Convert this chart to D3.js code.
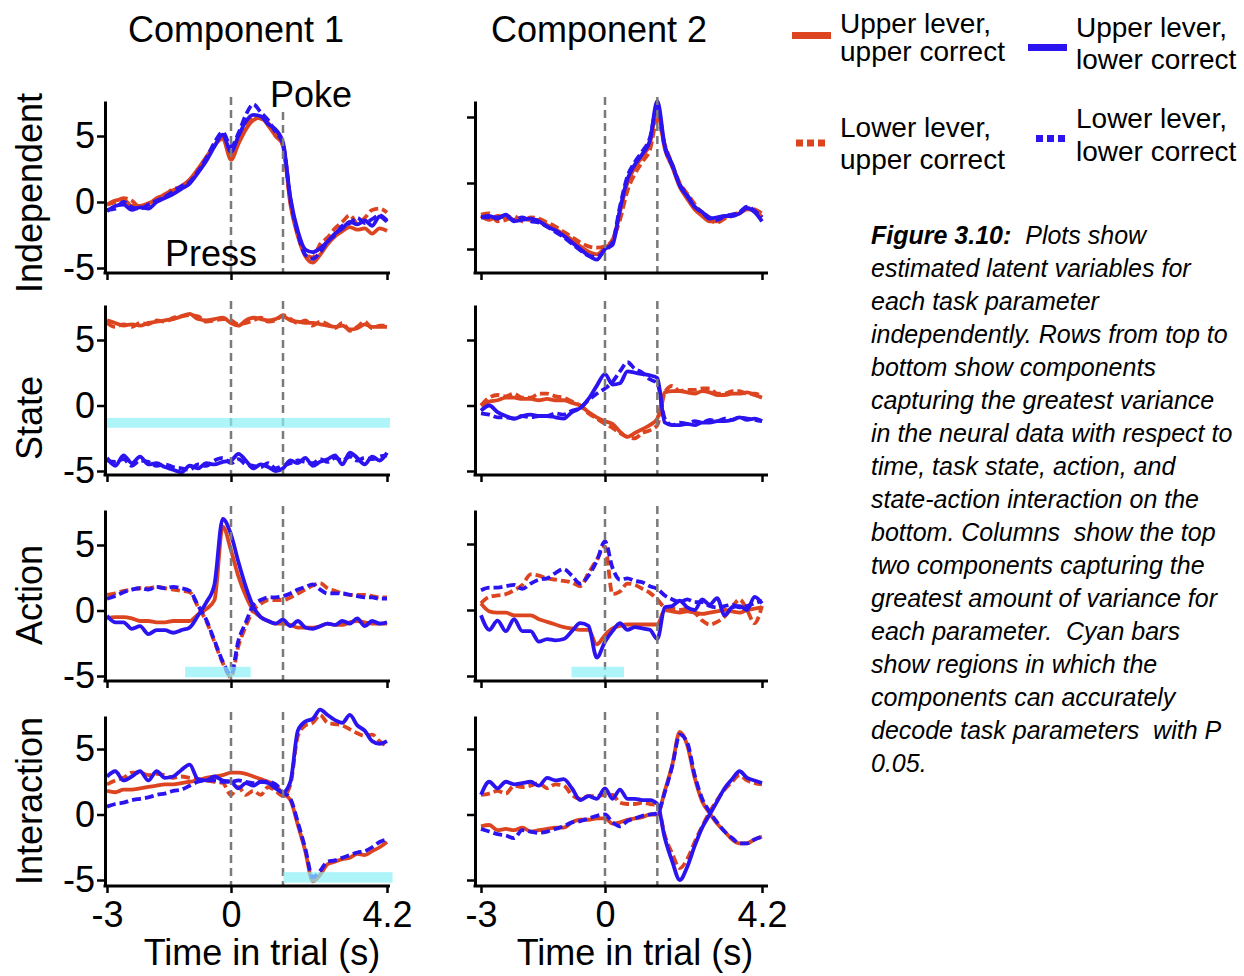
<!DOCTYPE html>
<html>
<head>
<meta charset="utf-8">
<script src="https://cdn.jsdelivr.net/npm/d3@7"></script>
<style>
  body { margin: 0; background: #fff; }
  svg { display: block; font-family: "Liberation Sans", Arial, sans-serif; }
</style>
</head>
<body>
<svg id="fig" width="1244" height="976"></svg>
<script>
// time axis shared by every trace (s, relative to lever press)
const timeGrid = [-3, -2.8, -2.6, -2.4, -2.2, -2, -1.8, -1.6, -1.4, -1.2,
  -1, -0.8, -0.6, -0.4, -0.2, 0, 0.2, 0.4, 0.6, 0.8,
  1, 1.2, 1.4, 1.6, 1.8, 2, 2.2, 2.4, 2.6, 2.8,
  3, 3.2, 3.4, 3.6, 3.8, 4, 4.2];

// UU = upper lever/upper correct, UL = upper lever/lower correct,
// LU = lower lever/upper correct, LL = lower lever/lower correct
// Independent, component 1
const ind1UU = [-0.2, 0.1, 0.2, -0.3, -0.3, -0.1, 0.2, 0.6, 0.9, 1.2,
  1.7, 2.5, 3.4, 4.3, 4.8, 3.2, 4.4, 5.5, 6.2, 6.4,
  5.8, 5.0, 4.3, -0.2, -2.6, -4.1, -4.6, -4.0, -3.2, -2.6,
  -2.2, -1.9, -2.1, -2.0, -2.4, -2.0, -2.2];
const ind1UL = [-0.7, -0.3, -0.2, -0.6, -0.4, -0.5, 0.0, 0.3, 0.6, 1.0,
  1.4, 2.2, 3.1, 4.2, 5.1, 3.8, 5.0, 6.1, 6.6, 6.5,
  5.9, 5.5, 4.5, 0.3, -2.2, -3.6, -3.8, -3.5, -3.0, -2.4,
  -2.0, -1.5, -1.7, -1.4, -1.8, -1.1, -1.5];
const ind1LU = [-0.2, 0.0, 0.3, 0.1, -0.4, -0.2, 0.3, 0.5, 1.0, 1.1,
  1.6, 2.3, 3.2, 4.4, 5.0, 3.5, 4.6, 5.7, 6.5, 6.3,
  6.0, 5.2, 4.2, 0.0, -2.4, -3.9, -4.2, -3.2, -2.7, -2.0,
  -1.5, -1.0, -1.6, -1.2, -0.6, -0.5, -0.8];
const ind1LL = [-0.6, -0.5, 0.0, -0.4, -0.5, -0.2, 0.1, 0.4, 0.8, 1.2,
  1.5, 2.3, 3.3, 4.5, 5.3, 4.2, 5.2, 6.6, 7.4, 6.8,
  6.2, 5.3, 4.4, 0.2, -2.4, -4.0, -4.3, -3.8, -3.0, -2.5,
  -1.8, -1.6, -1.2, -1.6, -1.3, -1.0, -1.4];

// Independent, component 2
const ind2UU = [-2.5, -2.8, -2.5, -2.6, -2.8, -2.7, -2.8, -2.8, -3.2, -3.5,
  -3.9, -4.3, -4.8, -5.2, -5.4, -4.9, -4.4, -2.2, 0.0, 1.2,
  2.0, 3.0, 5.6, 2.6, 1.2, -0.3, -1.2, -2.0, -2.5, -2.9,
  -2.9, -2.6, -2.4, -2.3, -2.0, -2.1, -2.6];
const ind2UL = [-2.6, -2.5, -2.7, -2.4, -2.9, -2.8, -2.7, -2.9, -3.3, -3.6,
  -4.0, -4.5, -5.0, -5.5, -5.8, -5.0, -4.7, -2.0, 0.3, 1.4,
  2.2, 3.2, 6.2, 2.8, 1.4, -0.2, -1.0, -1.8, -2.2, -2.7,
  -2.6, -2.5, -2.5, -2.3, -1.9, -2.2, -2.9];
const ind2LU = [-2.4, -2.3, -2.9, -2.8, -2.5, -2.9, -2.6, -2.7, -3.0, -3.3,
  -3.7, -4.1, -4.5, -4.8, -4.9, -4.8, -4.3, -2.8, -0.6, 0.7,
  1.6, 2.5, 4.8, 2.9, 1.4, 0.0, -0.8, -1.6, -2.3, -2.8,
  -3.0, -2.7, -2.5, -2.2, -1.9, -2.0, -2.3];
const ind2LL = [-2.6, -2.6, -2.6, -2.5, -2.8, -2.6, -2.9, -3.0, -3.3, -3.7,
  -4.1, -4.6, -5.1, -5.5, -5.6, -5.1, -4.5, -1.8, 0.5, 1.6,
  2.4, 3.4, 5.8, 2.7, 1.3, -0.1, -0.9, -1.8, -2.2, -2.6,
  -2.8, -2.5, -2.4, -2.2, -1.8, -2.1, -2.6];

// State, component 1
const state1UU = [6.5, 6.3, 6.1, 6.2, 6.1, 6.3, 6.4, 6.5, 6.6, 6.8,
  7.0, 6.6, 6.5, 6.6, 6.7, 6.3, 6.1, 6.5, 6.7, 6.6,
  6.5, 6.6, 6.8, 6.5, 6.4, 6.3, 6.3, 6.2, 6.1, 6.0,
  6.1, 5.8, 5.9, 6.2, 6.0, 6.0, 6.0];
const state1UL = [-4.0, -4.6, -3.8, -4.4, -3.9, -4.5, -4.4, -4.7, -4.9, -5.1,
  -4.6, -4.8, -4.4, -4.5, -4.3, -4.2, -3.7, -4.2, -4.8, -4.5,
  -4.7, -5.0, -4.8, -4.2, -4.4, -4.0, -4.6, -4.3, -4.1, -3.8,
  -4.5, -3.6, -4.0, -4.5, -3.9, -4.2, -3.6];
const state1LU = [6.3, 6.0, 6.2, 6.0, 6.3, 6.2, 6.5, 6.4, 6.7, 6.8,
  6.9, 6.8, 6.4, 6.5, 6.6, 6.5, 6.2, 6.3, 6.5, 6.7,
  6.4, 6.5, 6.9, 6.6, 6.3, 6.5, 6.1, 6.4, 6.2, 5.9,
  6.3, 5.7, 6.0, 6.4, 5.9, 6.1, 6.1];
const state1LL = [-4.2, -4.3, -4.1, -4.6, -4.2, -4.3, -4.6, -4.5, -4.7, -4.8,
  -4.9, -4.5, -4.6, -4.2, -4.0, -4.4, -4.1, -4.5, -4.6, -4.7,
  -4.4, -4.8, -4.6, -4.4, -4.2, -4.3, -4.4, -4.1, -4.3, -4.0,
  -4.2, -3.9, -4.2, -4.0, -4.1, -3.9, -3.8];

// State, component 2
const state2UU = [0.0, 0.3, 0.4, 0.6, 0.6, 0.5, 0.5, 0.4, 0.5, 0.4,
  0.4, 0.2, 0.0, -0.5, -0.9, -1.2, -1.4, -2.0, -2.4, -2.1,
  -1.8, -1.5, -1.0, 1.0, 1.1, 1.1, 1.0, 0.9, 1.1, 1.0,
  0.8, 0.8, 0.9, 0.9, 1.0, 0.8, 0.6];
const state2UL = [-0.4, 0.0, -0.5, -0.8, -1.0, -0.8, -0.7, -0.8, -0.8, -0.9,
  -1.0, -0.5, -0.2, 0.5, 1.5, 2.4, 1.6, 1.7, 2.6, 2.5,
  2.4, 2.3, 2.1, -1.3, -1.5, -1.5, -1.4, -1.5, -1.3, -1.3,
  -1.2, -1.2, -1.1, -0.9, -1.1, -1.0, -1.2];
const state2LU = [0.0, 0.6, 0.8, 0.7, 0.9, 0.6, 0.6, 0.9, 0.9, 0.7,
  0.6, 0.3, 0.0, -0.6, -1.0, -1.4, -1.7, -2.1, -2.4, -2.5,
  -2.1, -1.9, -1.5, 1.0, 1.5, 1.1, 1.2, 1.2, 1.3, 1.3,
  0.9, 0.9, 1.1, 1.1, 0.9, 0.9, 0.7];
const state2LL = [-0.6, -0.7, -0.9, -0.9, -1.0, -0.8, -0.9, -0.8, -0.8, -0.6,
  -0.7, -0.4, -0.2, 0.4, 0.9, 1.3, 1.8, 2.6, 3.3, 2.8,
  2.5, 2.0, 1.7, -1.0, -1.5, -1.3, -1.4, -1.2, -1.3, -1.1,
  -1.2, -1.0, -1.1, -0.9, -1.0, -1.1, -1.2];

// Action, component 1
const action1UU = [-0.6, -0.5, -0.5, -0.6, -0.8, -0.8, -0.9, -0.9, -0.8, -0.8,
  -0.8, -0.3, 0.1, 0.8, 6.4, 4.6, 2.6, 1.1, 0.0, -0.5,
  -0.8, -1.0, -1.0, -1.1, -1.3, -1.3, -1.3, -1.2, -1.0, -1.1,
  -1.1, -0.9, -0.8, -0.9, -1.0, -1.0, -1.0];
const action1UL = [-0.4, -0.9, -0.9, -1.4, -1.2, -1.8, -1.5, -1.5, -1.7, -1.5,
  -1.3, -0.4, 0.6, 2.0, 7.0, 5.8, 3.7, 1.8, 0.3, -0.5,
  -0.8, -1.0, -0.7, -1.2, -0.8, -1.3, -1.4, -1.2, -1.0, -1.1,
  -0.8, -1.0, -0.6, -1.2, -0.8, -1.0, -0.9];
const action1LU = [1.2, 1.3, 1.5, 1.6, 1.7, 1.7, 1.8, 1.7, 1.6, 1.5,
  1.4, 0.3, -0.8, -2.4, -4.0, -5.1, -2.7, -1.2, 0.0, 0.5,
  0.8, 0.8, 0.8, 1.0, 1.3, 1.6, 1.9, 2.1, 1.7, 1.5,
  1.3, 1.2, 1.2, 1.2, 1.1, 1.0, 1.0];
const action1LL = [0.9, 1.1, 1.4, 1.6, 1.7, 1.6, 1.8, 1.7, 1.8, 1.7,
  1.5, 0.4, -0.7, -2.3, -3.9, -4.9, -2.3, -0.9, 0.4, 0.8,
  1.0, 1.0, 1.1, 1.3, 1.6, 1.8, 2.0, 1.6, 1.3, 1.3,
  1.3, 1.2, 1.1, 1.0, 1.0, 0.9, 0.9];

// Action, component 2
const action2UU = [0.5, -0.1, -0.2, -0.2, -0.4, -0.4, -0.4, -0.7, -0.9, -1.1,
  -1.3, -1.4, -1.5, -1.5, -2.6, -1.9, -1.4, -1.2, -1.1, -1.1,
  -1.1, -1.1, -1.1, 0.0, -0.1, -0.2, -0.1, -0.2, -0.3, -0.2,
  -0.1, 0.0, -0.1, -0.2, 0.0, 0.1, 0.2];
const action2UL = [-0.4, -1.5, -0.8, -1.6, -0.7, -1.6, -1.6, -2.4, -2.2, -2.3,
  -2.2, -1.6, -1.0, -1.2, -3.6, -2.4, -1.6, -1.0, -1.5, -1.3,
  -1.4, -1.5, -2.2, 0.2, 0.3, 0.7, 0.2, 0.0, 0.8, 0.4,
  0.9, -0.4, 0.2, 0.3, 0.0, 1.0, 0.5];
const action2LU = [0.5, 1.0, 1.1, 1.2, 1.5, 1.9, 2.7, 2.6, 2.4, 2.3,
  2.2, 2.1, 1.8, 2.8, 3.8, 4.8, 1.2, 1.4, 2.0, 1.9,
  1.6, 1.3, 0.8, 0.2, 0.1, 0.0, 0.1, -0.2, -0.8, -1.1,
  -0.9, -0.5, 0.2, 0.8, 0.0, -1.0, 0.3];
const action2LL = [1.5, 1.7, 1.7, 1.8, 1.9, 1.6, 2.0, 2.3, 2.4, 2.8,
  3.1, 2.6, 2.0, 2.6, 3.7, 5.2, 3.2, 2.3, 2.4, 2.2,
  2.1, 1.8, 1.6, 1.1, 0.8, 0.6, 0.8, 0.6, 0.6, 0.3,
  0.2, 0.3, 0.4, 0.2, 0.3, 0.5, 0.7];

// Interaction, component 1
const inter1UU = [1.8, 1.7, 1.9, 1.9, 2.0, 2.1, 2.2, 2.3, 2.3, 2.4,
  2.5, 2.6, 2.8, 2.9, 3.0, 3.2, 3.2, 3.1, 2.9, 2.7,
  2.5, 2.2, 1.6, 1.1, -0.8, -2.8, -5.1, -4.6, -3.8, -3.6,
  -3.4, -3.3, -3.0, -3.1, -2.8, -2.5, -2.1];
const inter1UL = [2.9, 3.3, 2.6, 2.9, 3.3, 2.6, 3.3, 2.8, 2.9, 3.4,
  3.8, 2.7, 2.6, 2.9, 2.6, 2.5, 2.0, 2.4, 2.2, 2.5,
  2.4, 2.0, 1.7, 2.5, 6.4, 7.1, 7.3, 8.0, 7.6, 7.2,
  7.0, 7.6, 6.8, 6.4, 5.6, 5.4, 5.6];
const inter1LU = [2.3, 2.6, 2.8, 3.2, 3.2, 3.0, 3.1, 3.0, 2.8, 2.9,
  2.8, 2.7, 2.6, 2.5, 2.4, 1.5, 2.1, 1.5, 1.8, 1.5,
  2.1, 1.8, 1.4, 2.3, 6.0, 6.8, 7.0, 7.6, 7.0, 6.9,
  6.8, 6.5, 6.2, 6.0, 6.1, 5.6, 5.2];
const inter1LL = [0.6, 0.8, 0.9, 1.1, 1.2, 1.3, 1.5, 1.6, 1.8, 1.9,
  2.2, 2.5, 2.6, 2.6, 2.5, 2.5, 2.6, 2.5, 2.4, 2.5,
  2.5, 2.3, 1.7, 1.2, -0.6, -2.6, -4.8, -4.3, -3.6, -3.5,
  -3.3, -3.1, -2.9, -2.8, -2.5, -2.1, -1.9];

// Interaction, component 2
const inter2UU = [-0.9, -0.8, -1.2, -1.1, -1.2, -1.0, -1.3, -1.2, -1.1, -1.0,
  -1.0, -0.6, -0.4, -0.4, -0.3, -0.3, -0.7, -0.6, -0.4, -0.3,
  -0.2, 0.0, 0.0, 1.8, 3.8, 6.3, 5.3, 2.8, 1.0, 0.1,
  -0.7, -1.3, -1.9, -2.2, -2.2, -1.9, -1.7];
const inter2UL = [1.5, 2.5, 2.0, 2.5, 2.3, 2.4, 2.5, 2.2, 2.8, 2.6,
  2.7, 2.0, 1.1, 1.4, 1.2, 2.0, 1.2, 1.9, 1.2, 1.2,
  1.1, 1.1, 0.8, -1.8, -3.6, -5.0, -4.0, -2.4, -1.0, 0.0,
  1.0, 2.0, 2.7, 3.3, 2.8, 2.6, 2.4];
const inter2LU = [1.5, 1.6, 1.8, 1.6, 2.2, 2.1, 2.2, 2.4, 2.0, 2.3,
  2.2, 1.5, 1.2, 1.4, 1.4, 1.5, 1.5, 0.9, 0.8, 0.8,
  0.9, 0.8, 0.7, -1.6, -3.0, -4.1, -3.4, -2.1, -0.9, 0.2,
  1.1, 1.9, 2.5, 3.0, 2.6, 2.4, 2.3];
const inter2LL = [-1.1, -1.3, -1.5, -1.6, -1.8, -1.2, -1.3, -1.4, -1.3, -1.1,
  -0.9, -0.6, -0.5, -0.3, -0.1, 0.0, -0.6, -0.9, -0.5, -0.3,
  -0.1, 0.0, 0.1, 1.7, 3.7, 6.1, 5.5, 3.0, 1.2, 0.2,
  -0.6, -1.3, -1.8, -2.2, -2.2, -1.9, -1.7];

// significant decoding windows: [row, col, tStart, tEnd, vLow, vHigh]
const cyanBars = [
  [1, 0, -3.05, 4.28, -1.7, -0.95],
  [2, 0, -1.11, 0.53, -5.1, -4.3],
  [2, 1, -0.81, 0.51, -5.1, -4.3],
  [3, 0, 1.41, 4.35, -5.2, -4.4]
];

const rowNames = ["Independent", "State", "Action", "Interaction"];
const colNames = ["Component 1", "Component 2"];
const eventTimes = [0, 1.4];           // press, poke
const xTickVals = [-3, 0, 4.2];
const yTickVals = [-5, 0, 5];
const legendLabels = [
  ["Upper lever,", "upper correct"],
  ["Upper lever,", "lower correct"],
  ["Lower lever,", "upper correct"],
  ["Lower lever,", "lower correct"]
];
const captionLines = [
  "estimated latent variables for",
  "each task parameter",
  "independently. Rows from top to",
  "bottom show components",
  "capturing the greatest variance",
  "in the neural data with respect to",
  "time, task state, action, and",
  "state-action interaction on the",
  "bottom. Columns  show the top",
  "two components capturing the",
  "greatest amount of variance for",
  "each parameter.  Cyan bars",
  "show regions in which the",
  "components can accurately",
  "decode task parameters  with P",
  "0.05."
];

const series = [
  [[ind1UU, ind1UL, ind1LU, ind1LL], [ind2UU, ind2UL, ind2LU, ind2LL]],
  [[state1UU, state1UL, state1LU, state1LL], [state2UU, state2UL, state2LU, state2LL]],
  [[action1UU, action1UL, action1LU, action1LL], [action2UU, action2UL, action2LU, action2LL]],
  [[inter1UU, inter1UL, inter1LU, inter1LL], [inter2UU, inter2UL, inter2LU, inter2LL]]
];

// ---- styling / layout ----
const red = "#dc4520", blue = "#2b14f0";
const condStyle = [
  { color: red, dash: null },
  { color: blue, dash: null },
  { color: red, dash: "9,4" },
  { color: blue, dash: "9,4" }
];
const drawOrder = [0, 2, 1, 3];
const cols = [
  { axisX: 105, xr: [107, 231, 387], xEnd: 390, labelX: 262 },
  { axisX: 475, xr: [481, 605, 762], xEnd: 768, labelX: 635 }
];
const rows = [
  { top: 101, bottom: 273, labelY: 193 },
  { top: 305, bottom: 475, labelY: 418 },
  { top: 510, bottom: 681, labelY: 595 },
  { top: 716, bottom: 886, labelY: 801 }
];
// pixel rows of the +5 / -5 ticks for each panel
const tickPix = [
  [[136, 268], [117, 249]],
  [[340, 471], [340, 471]],
  [[545, 676], [544, 676]],
  [[749, 880], [749, 880]]
];
const bigFont = 36;

const svg = d3.select("#fig");

rows.forEach((r, ri) => {
  cols.forEach((c, ci) => {
    const g = svg.append("g");
    const x = d3.scaleLinear().domain([-3, 0, 4.2]).range(c.xr);
    const y0 = d3.scaleLinear().domain([-5, 5]).range([tickPix[ri][ci][1], tickPix[ri][ci][0]]);
    const y = d3.scaleLinear().domain([y0.invert(r.bottom), y0.invert(r.top)]).range([r.bottom, r.top]);

    const line = d3.line()
      .x((d, i) => x(timeGrid[i]))
      .y(d => y(d))
      .curve(d3.curveMonotoneX);

    drawOrder.forEach(k => {
      g.append("path")
        .datum(series[ri][ci][k])
        .attr("d", line)
        .attr("fill", "none")
        .attr("stroke", condStyle[k].color)
        .attr("stroke-width", 3.8)
        .attr("stroke-linejoin", "round")
        .attr("stroke-dasharray", condStyle[k].dash);
    });

    // press / poke markers
    eventTimes.forEach((t, ei) => {
      const yTop = (ri === 0 && ci === 0 && ei === 1) ? 112 : r.top - 4;
      g.append("line")
        .attr("x1", x(t)).attr("x2", x(t))
        .attr("y1", yTop).attr("y2", r.bottom)
        .attr("stroke", "#7a7a7a")
        .attr("stroke-width", 2.5)
        .attr("stroke-dasharray", "8,5");
    });

    // cyan significance bars
    cyanBars.filter(b => b[0] === ri && b[1] === ci).forEach(b => {
      g.append("rect")
        .attr("x", x(b[2]))
        .attr("width", x(b[3]) - x(b[2]))
        .attr("y", y(b[5]))
        .attr("height", y(b[4]) - y(b[5]))
        .attr("fill", "rgb(140,241,248)")
        .attr("opacity", 0.7);
    });

    // y axis
    const gy = g.append("g")
      .attr("transform", `translate(${c.axisX},0)`)
      .call(d3.axisLeft(y).tickValues(yTickVals).tickSize(8).tickSizeOuter(0).tickPadding(2)
        .tickFormat(ci === 0 ? d => String(d) : ""));
    gy.select(".domain").attr("stroke-width", 3);
    gy.selectAll(".tick line").attr("stroke-width", 2.5);
    gy.selectAll("text").attr("font-size", bigFont).attr("fill", "#000");
    gy.attr("font-family", null);

    // x axis
    const gx = g.append("g")
      .attr("transform", `translate(0,${r.bottom})`)
      .call(d3.axisBottom(x).tickValues(xTickVals).tickSize(7).tickSizeOuter(0).tickPadding(8)
        .tickFormat(ri === 3 ? d => String(d) : ""));
    gx.select(".domain").remove();
    gx.selectAll(".tick line").attr("stroke-width", 2.5);
    gx.selectAll("text").attr("font-size", bigFont).attr("fill", "#000");
    gx.attr("font-family", null);
    g.append("line")
      .attr("x1", c.axisX - 1.5).attr("x2", c.xEnd)
      .attr("y1", r.bottom).attr("y2", r.bottom)
      .attr("stroke", "#000").attr("stroke-width", 3);
  });

  svg.append("text")
    .attr("transform", `translate(42,${r.labelY}) rotate(-90)`)
    .attr("text-anchor", "middle")
    .attr("font-size", bigFont)
    .text(rowNames[ri]);
});

// column titles and x labels
cols.forEach((c, ci) => {
  svg.append("text")
    .attr("x", ci === 0 ? 236 : 599).attr("y", 42)
    .attr("text-anchor", "middle")
    .attr("font-size", bigFont)
    .text(colNames[ci]);
  svg.append("text")
    .attr("x", c.labelX).attr("y", 965)
    .attr("text-anchor", "middle")
    .attr("font-size", bigFont)
    .text("Time in trial (s)");
});

svg.append("text").attr("x", 270).attr("y", 107).attr("font-size", bigFont).text("Poke");
svg.append("text").attr("x", 165).attr("y", 266).attr("font-size", bigFont).text("Press");

// legend
const legendPos = [
  { sx: 792, sy: 35.5, tx: 840, ty: [33, 61] },
  { sx: 1028, sy: 47.5, tx: 1076, ty: [37, 69] },
  { sx: 796, sy: 143, tx: 840, ty: [137, 169] },
  { sx: 1036, sy: 138.5, tx: 1076, ty: [128, 161] }
];
legendPos.forEach((p, k) => {
  svg.append("line")
    .attr("x1", p.sx).attr("x2", p.sx + (condStyle[k].dash ? 31 : 39))
    .attr("y1", p.sy).attr("y2", p.sy)
    .attr("stroke", condStyle[k].color)
    .attr("stroke-width", 7)
    .attr("stroke-dasharray", condStyle[k].dash ? "7,4" : null);
  legendLabels[k].forEach((s, j) => {
    svg.append("text").attr("x", p.tx).attr("y", p.ty[j]).attr("font-size", 28).text(s);
  });
});

// caption
const cap = svg.append("g").attr("font-size", 25).attr("font-style", "italic");
const first = cap.append("text").attr("x", 871).attr("y", 244).style("white-space", "pre");
first.append("tspan").attr("font-weight", "bold").text("Figure 3.10:");
first.append("tspan").text("  Plots show");
captionLines.forEach((s, i) => {
  cap.append("text")
    .attr("x", 871).attr("y", 244 + 33 * (i + 1))
    .style("white-space", "pre")
    .text(s);
});
</script>
</body>
</html>
